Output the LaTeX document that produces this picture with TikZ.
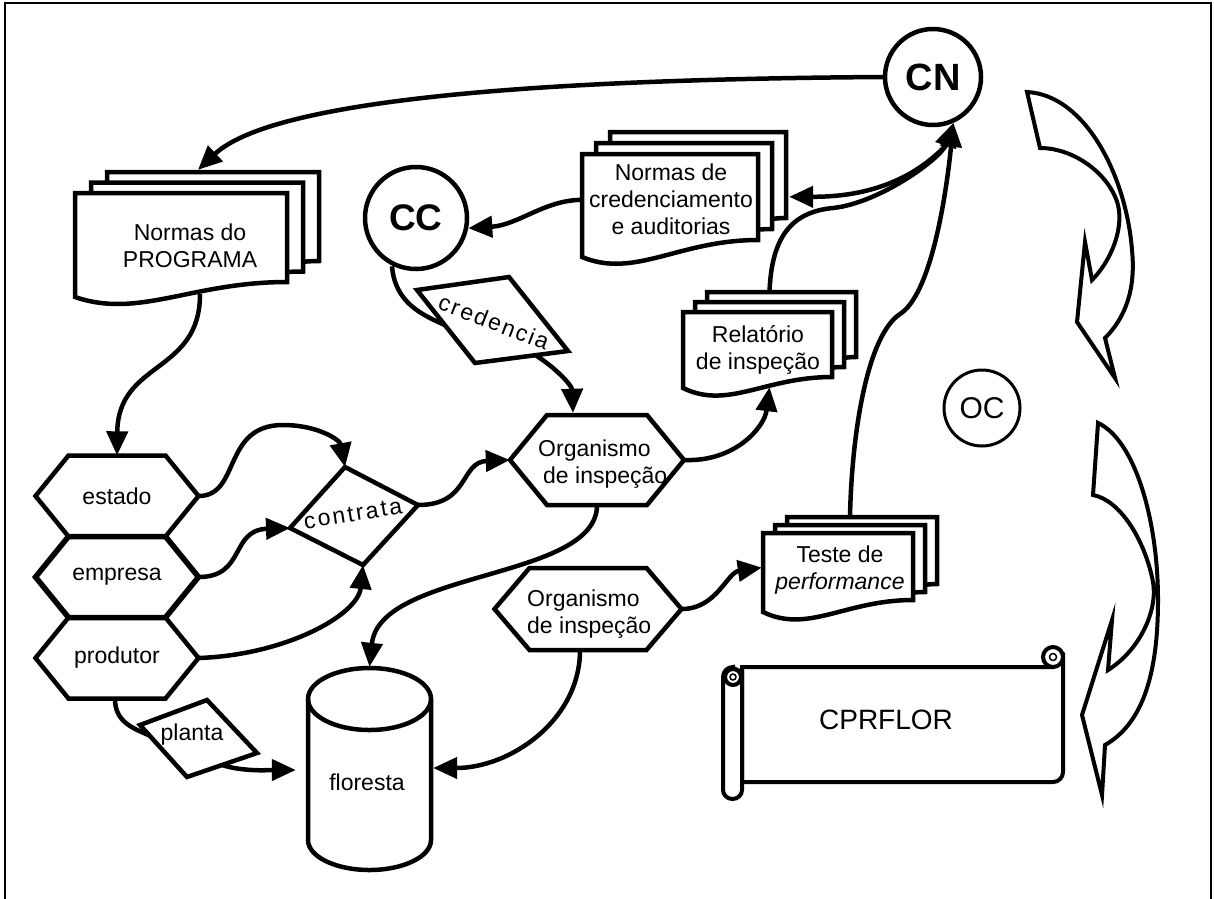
\documentclass[tikz,border=0pt]{standalone}
\usepackage{fontspec}
\setmainfont{Liberation Sans}
\newfontfamily\spacedfont[LetterSpace=10]{Liberation Sans}
\newfontfamily\widefont[LetterSpace=9]{Liberation Sans}
\usetikzlibrary{arrows.meta,calc}

% one page of a document symbol: left, top, right, bottom-left y, rise of the right end
\newcommand\docpage[5]{%
  \filldraw[shp] ({#1},{#2}) -- ({#3},{#2}) -- ({#3},{#4-#5})
    .. controls ({#1+0.55*(#3-#1)},{#4-#5}) and ({#1+0.3*(#3-#1)},{#4+22}) .. ({#1},{#4}) -- cycle;}
% stack of three pages, each shifted by (dx,dy)
\newcommand\docstack[7]{%
  \docpage{#1+2*#6}{#2+2*(#7)}{#3+2*#6}{#4+2*(#7)}{#5}%
  \docpage{#1+#6}{#2+#7}{#3+#6}{#4+#7}{#5}%
  \docpage{#1}{#2}{#3}{#4}{#5}}
% hexagon: centre x, centre y, half width, half height, corner inset
\newcommand\hexa[6][]{%
  \filldraw[shp,#1] ({#2-#4},{#3}) -- ({#2-#4+#6},{#3-#5}) -- ({#2+#4-#6},{#3-#5})
    -- ({#2+#4},{#3}) -- ({#2+#4-#6},{#3+#5}) -- ({#2-#4+#6},{#3+#5}) -- cycle;}

\begin{document}
\begin{tikzpicture}[x=1pt,y=-1pt,
  shp/.style={draw,line width=4.5pt,fill=white,line join=miter},
  conn/.style={line width=4.5pt,-{Triangle[length=24pt,width=21pt]}},
  link/.style={line width=4.5pt},
  lbl/.style={font=\fontsize{23}{27}\selectfont,align=center,inner sep=0pt},
  area/.style={inner sep=0pt,draw=none},
  ring/.style={circle,draw,line width=4.5pt,inner sep=0pt,fill=white},
  bigarrow/.style={draw,line width=4pt,fill=white,line join=miter,miter limit=20},
]
\useasboundingbox (0,0) rectangle (1214,898);
\draw[line width=1.5pt] (5,905) -- (5,3) -- (1211,3) -- (1211,905);

% ---- curved block arrows on the right
\filldraw[bigarrow] (1027,92) -- (1040,148)
  .. controls (1075,148) and (1110,175) .. (1118,205)
  .. controls (1124,230) and (1110,262) .. (1092,280)
  -- (1085,242) -- (1077,322) -- (1115,378) -- (1105,338)
  .. controls (1125,318) and (1136,290) .. (1132,250)
  .. controls (1126,175) and (1085,95) .. cycle;
\filldraw[bigarrow] (1098,423) -- (1093,495)
  .. controls (1120,500) and (1145,540) .. (1153,582)
  .. controls (1158,610) and (1140,650) .. (1108,670)
  -- (1112,620) -- (1082,715) -- (1102,795) -- (1105,745)
  .. controls (1140,725) and (1158,680) .. (1158,600)
  .. controls (1158,520) and (1135,440) .. cycle;

% ---- scroll
\begin{scope}[line width=4pt]
  \filldraw[fill=white] (1063,657) -- (1063,772) arc[start angle=0,end angle=-90,radius=10pt]
     -- (742,782) -- (742,667) -- (1053,667) -- cycle;
  \filldraw[fill=white] (733,668) -- (742,672) -- (742,790) arc[start angle=0,end angle=-180,x radius=9.5pt,y radius=9pt]
     -- (723,677) arc[start angle=180,end angle=90,radius=10pt] -- cycle;
  \draw (733,677) circle[radius=8pt];
  \draw[line width=1.5pt] (733,677) circle[radius=3pt];
  \filldraw[fill=white] (1053,657) circle[radius=10pt];
  \draw[line width=1.5pt] (1053,657) circle[radius=3.5pt];
\end{scope}
\node[font=\fontsize{28}{30}\selectfont,inner sep=0pt] (cprflor) at (886,720) {CPRFLOR};

% ---- document stacks
\docstack{75}{193}{287}{297}{15}{16}{-10.5}
\node[area,minimum width=212pt,minimum height=104pt] (prog) at (181,245) {};
\node[lbl] (progtxt) at (190,246) {Normas do\\PROGRAMA};

\docstack{582}{154}{758}{257}{17}{14}{-11}
\node[area,minimum width=176pt,minimum height=103pt] (cred) at (670,205.5) {};
\node[lbl] (credtxt) at (671,199) {Normas de\\credenciamento\\e auditorias};

\docstack{683}{312}{832}{388}{11}{12}{-10}
\node[area,minimum width=149pt,minimum height=76pt] (rel) at (757.5,350) {};
\node[lbl] (reltxt) at (758,350) {Relatório\\de inspeção};

\docstack{763}{533}{913}{612}{12}{12}{-8}
\node[area,minimum width=150pt,minimum height=79pt] (teste) at (838,572.5) {};
\node[lbl] (testetxt) at (840,570) {Teste de\\\itshape performance};

% ---- circles
\node[ring,minimum size=96pt,font=\fontsize{38}{40}\selectfont\bfseries] (cn) at (933,77) {CN};
\node[ring,minimum size=102pt,font=\fontsize{37}{40}\selectfont\bfseries] (cc) at (416,218) {CC};
\node[ring,minimum size=76pt,line width=3pt,font=\fontsize{30}{32}\selectfont] (oc) at (982,408) {OC};

% ---- hexagons
\hexa{117}{496}{81.5}{40.5}{33}
\hexa{117}{658}{81.5}{40.5}{33}
\hexa[line width=5.5pt]{117}{577}{81.5}{40.5}{33}
\node[lbl,minimum width=163pt,minimum height=81pt] (estado) at (117,496) {estado};
\node[lbl,minimum width=163pt,minimum height=81pt] (empresa) at (117,577) {empresa};
\node[lbl,minimum width=163pt,minimum height=81pt] (produtor) at (117,658) {produtor};

\hexa{597}{460}{87}{45}{37}
\node[area,minimum width=174pt,minimum height=90pt] (org1) at (597,460) {};
\node[lbl,align=left,anchor=west] (org1txt) at (538,464) {Organismo\\\hspace*{5pt}de inspeção};

\hexa{588}{609}{93.5}{41}{35}
\node[area,minimum width=187pt,minimum height=82pt] (org2) at (588,609) {};
\node[lbl,align=left,anchor=west] (org2txt) at (527,614) {Organismo\\de inspeção};

% ---- parallelograms
\coordinate (ctN) at (345,467); \coordinate (ctE) at (418,505);
\coordinate (ctS) at (363,565); \coordinate (ctW) at (290,528);
\filldraw[shp] (ctN) -- (ctE) -- (ctS) -- (ctW) -- cycle;
\node[lbl,rotate=9] (contrata) at (353,514) {\spacedfont contrata};

\coordinate (cdA) at (417,290); \coordinate (cdB) at (509,277);
\coordinate (cdC) at (568,351); \coordinate (cdD) at (475,363);
\filldraw[shp] (cdA) -- (cdB) -- (cdC) -- (cdD) -- cycle;
\node[lbl,rotate=-21] (credencia) at (494,322) {\widefont credencia};

\coordinate (plA) at (140,725); \coordinate (plB) at (207,700);
\coordinate (plC) at (257,753); \coordinate (plD) at (187,777);
\filldraw[shp] (plA) -- (plB) -- (plC) -- (plD) -- cycle;
\node[lbl] (planta) at (192,735) {planta};

% ---- cylinder
\filldraw[shp] (308,699) -- (308,840) arc[start angle=180,end angle=360,x radius=61.5pt,y radius=30pt]
  -- (431,699) arc[start angle=0,end angle=180,x radius=61.5pt,y radius=31pt] -- cycle;
\draw[line width=4.5pt] (308,699) arc[start angle=180,end angle=360,x radius=61.5pt,y radius=31pt];
\node[area,minimum width=123pt,minimum height=202pt] (floresta) at (369.5,769) {};
\node[lbl] (florestatxt) at (367,782) {floresta};

% ---- connectors
\coordinate (cnIn) at (cn.-66);
\coordinate (cnJoin) at ($(cnIn)+(-7,22)$);

\draw[conn] (cn.west) .. controls +(-300,2) and +(80,-75) .. ($(prog.north)+(17,-23)$);
\draw[conn] ($(prog.south)+(19,-3)$) .. controls +(0,80) and +(1,-95) .. (estado.north);
\draw[conn] (estado.east) .. controls +(42,0) and +(-61,0) .. (283,425)
  .. controls +(35,0) and +(-5,-27) .. (ctN);
\draw[conn] (empresa.east) .. controls +(47,0) and +(-60,2) .. (ctW);
\draw[conn] (produtor.east) .. controls +(87,-3) and +(-5,50) .. (ctS);
\draw[conn] (ctE) .. controls +(52,0) and +(-50,2) .. (org1.west);
\draw[conn] ($(cdC)!0.35!(cdD)$) .. controls +(18,11) and +(-1,-28) .. ($(org1.north)+(-24,-2)$);
\draw[link] ($(cc.south)+(-24,-5)$) .. controls +(3,37) and +(-22,-10) .. ($(cdA)!0.48!(cdD)$);
\draw[conn] (cred.west|-progtxt.north) ++(0,-24) coordinate (credW)
  .. controls +(-37,0) and +(50,-3) .. (cc.-11);
\draw[conn] (cnJoin) .. controls +(-43,45) and +(60,0) .. ($(cred.north east)+(31,43)$);
\draw[conn] ($(rel.north)+(12,-20)$) .. controls +(2,-53) and +(-43,4) .. (833,208)
  .. controls +(47,-5) and +(-12,35) .. (cnIn);
\draw[conn] ($(teste.north)+(12,-17)$) .. controls +(2,-87) and +(-32,21) .. (900,314)
  .. controls +(30,-19) and +(-8,79) .. (cnIn);
\draw[conn] (org1.east) .. controls +(51,2) and +(-5,40) .. ($(rel.south)+(12,-1)$);
\draw[conn] (org1.south) .. controls +(0,75) and +(10,-97) .. ($(floresta.north)+(0,-1)$);
\draw[conn] ($(org2.south)+(-8,0)$) .. controls +(0,70) and +(77,0) .. ($(floresta.east)+(2,-1)$);
\draw[conn] (org2.east) .. controls +(35,0) and +(-35,5) .. ($(teste.west)+(-1,-5)$);
\draw[link] ($(produtor.south)+(-2,0)$) .. controls +(0,22) and +(-19,-8) .. ($(plA)!0.2!(plD)$);
\draw[conn] ($(plC)!0.5!(plD)$) .. controls +(22,7) and +(-26,0) .. ($(floresta.west)+(-12,1)$);
\end{tikzpicture}
\end{document}
